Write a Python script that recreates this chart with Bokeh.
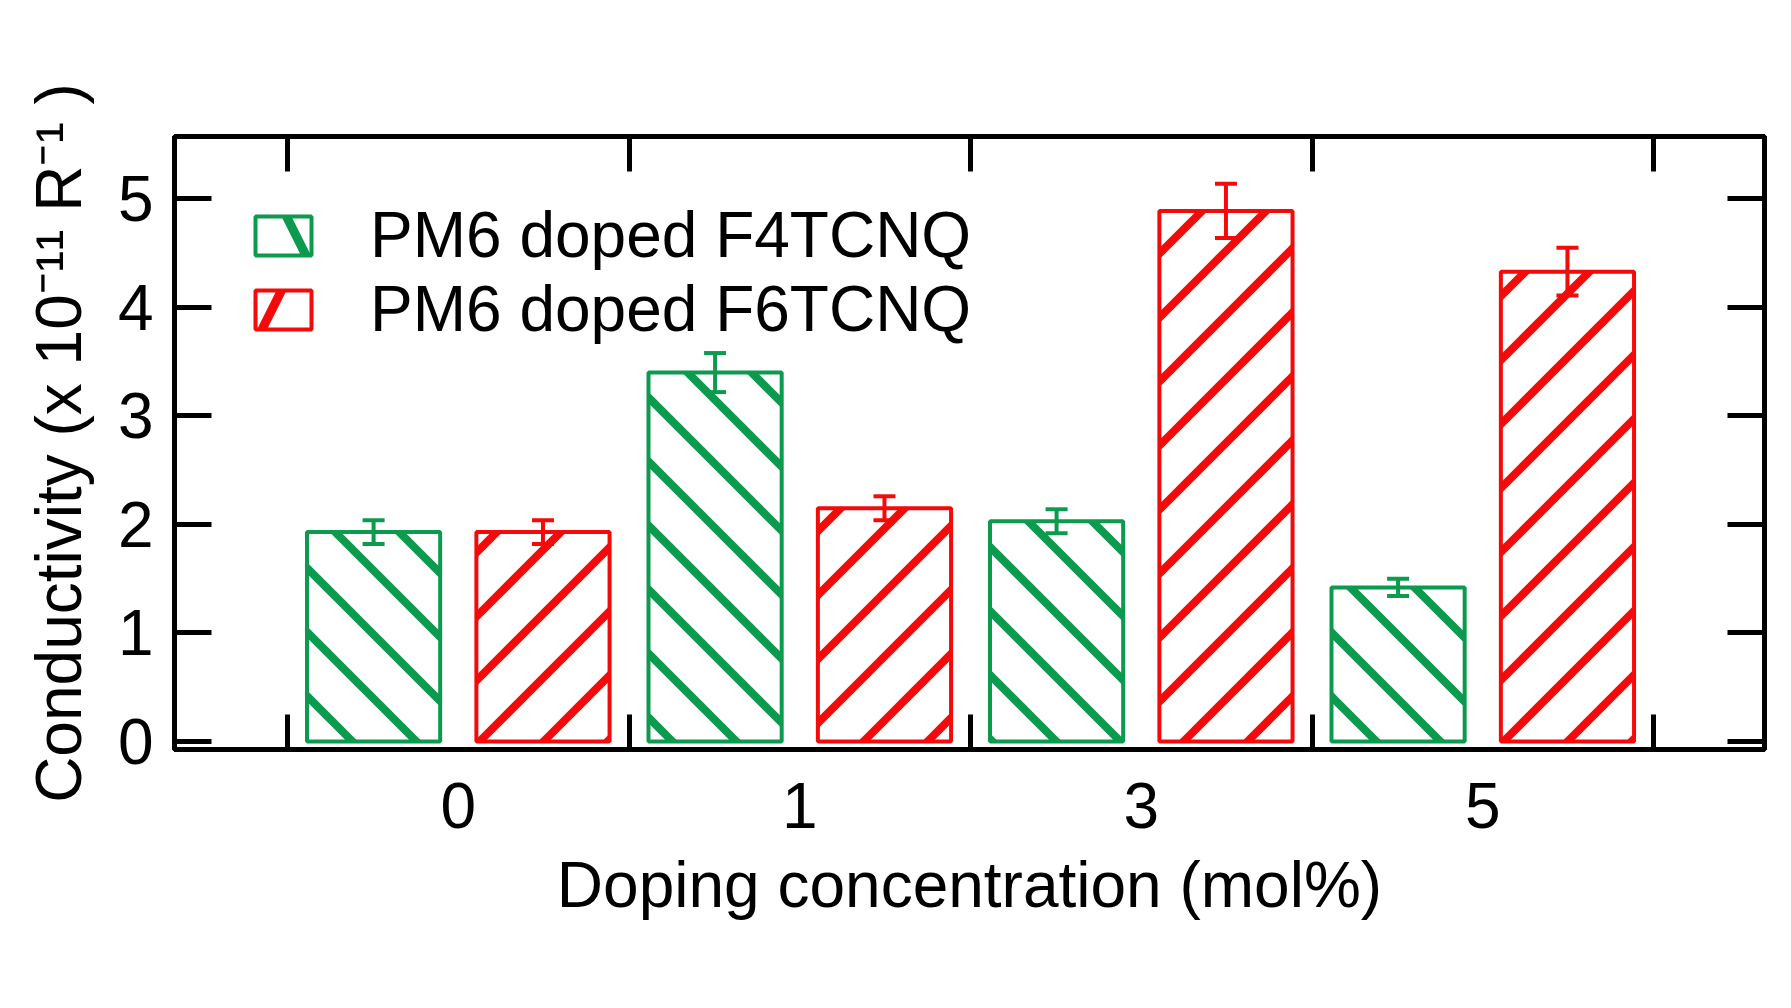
import numpy as np
from bokeh.plotting import figure
from bokeh.models import (ColumnDataSource, Range1d, LinearAxis, FixedTicker,
                          Whisker, TeeHead, Legend, LegendItem)
from bokeh.embed import file_html
from bokeh.resources import INLINE

# ---- data ----
categories = ["0", "1", "3", "5"]
f4tcnq = [1.93, 3.40, 2.03, 1.42]
f4tcnq_err = [0.11, 0.18, 0.11, 0.08]
f6tcnq = [1.93, 2.15, 4.89, 4.33]
f6tcnq_err = [0.11, 0.11, 0.25, 0.22]
series_names = ["PM6 doped F4TCNQ", "PM6 doped F6TCNQ"]
y_ticks = [0, 1, 2, 3, 4, 5]

GREEN = "#0C9A4E"
RED = "#F50A0A"
FONT = "Liberation Sans"

# ---- layout ----
W, H = 1783, 990
BL, BT, BR, BB = 174, 136, 19, 241
X0, X1 = -0.831, 3.825
Y0, Y1 = -0.074, 5.576
FW, FH = W - BL - BR, H - BT - BB
SX, SY = FW / (X1 - X0), FH / (Y1 - Y0)   # pixels per data unit

idx = np.arange(len(categories), dtype=float)
offset = 0.248
bar_w = 0.39
HATCH_STEP = 64.0      # px between stripes (vertical)
HATCH_T = 8.0          # px stripe thickness


def clip_halfplane(poly, a, b, c):
    """keep part of polygon where a*x + b*y <= c"""
    out = []
    n = len(poly)
    for i in range(n):
        P, Q = poly[i], poly[(i + 1) % n]
        fp = a * P[0] + b * P[1] - c
        fq = a * Q[0] + b * Q[1] - c
        if fp <= 0:
            out.append(P)
        if (fp < 0 < fq) or (fq < 0 < fp):
            t = fp / (fp - fq)
            out.append((P[0] + t * (Q[0] - P[0]), P[1] + t * (Q[1] - P[1])))
    return out


def hatch_patches(xc, tops, direction, phase):
    """45-degree stripes (in screen space) clipped to each bar; returns data coords"""
    xs, ys = [], []
    d = HATCH_T * np.sqrt(2) / 2
    for x, top in zip(xc, tops):
        ax0, ax1 = (x - bar_w / 2) * SX, (x + bar_w / 2) * SX
        T = top * SY
        rect = [(ax0, 0.0), (ax1, 0.0), (ax1, T), (ax0, T)]
        if direction == "back":   # X + Y = C
            a, b = 1.0, 1.0
            K = Y1 * SY + X0 * SX - phase
            lo, hi = ax0 - d, ax1 + T + d
        else:                     # Y - X = C
            a, b = -1.0, 1.0
            K = Y1 * SY - X0 * SX - phase
            lo, hi = -ax1 - d, T - ax0 + d
        k0 = np.floor((K - hi) / HATCH_STEP)
        k1 = np.ceil((K - lo) / HATCH_STEP)
        for k in np.arange(k0, k1 + 1):
            C = K - k * HATCH_STEP
            poly = clip_halfplane(rect, a, b, C + d)
            if len(poly) >= 3:
                poly = clip_halfplane(poly, -a, -b, -(C - d))
            if len(poly) >= 3:
                xs.append([pt[0] / SX for pt in poly])
                ys.append([pt[1] / SY for pt in poly])
    return xs, ys


xg = idx - offset
xr = idx + offset
src_g = ColumnDataSource(dict(
    x=xg, top=f4tcnq,
    upper=np.array(f4tcnq) + np.array(f4tcnq_err),
    lower=np.array(f4tcnq) - np.array(f4tcnq_err)))
src_r = ColumnDataSource(dict(
    x=xr, top=f6tcnq,
    upper=np.array(f6tcnq) + np.array(f6tcnq_err),
    lower=np.array(f6tcnq) - np.array(f6tcnq_err)))

p = figure(width=W, height=H, output_backend="svg", toolbar_location=None,
           x_range=Range1d(X0, X1), y_range=Range1d(Y0, Y1),
           min_border_left=BL, min_border_top=BT, min_border_right=BR,
           min_border_bottom=BB)
p.xgrid.visible = False
p.ygrid.visible = False
p.outline_line_color = "black"
p.outline_line_width = 5
p.background_fill_color = "white"
p.border_fill_color = "white"

# hatch stripes
gxs, gys = hatch_patches(xg, f4tcnq, "back", 43)
rxs, rys = hatch_patches(xr, f6tcnq, "fwd", 14)
p.patches(gxs, gys, fill_color=GREEN, line_color=None)
p.patches(rxs, rys, fill_color=RED, line_color=None)

# bar outlines
p.vbar(x="x", top="top", bottom=0, width=bar_w, source=src_g,
       fill_color=None, line_color=GREEN, line_width=4)
p.vbar(x="x", top="top", bottom=0, width=bar_w, source=src_r,
       fill_color=None, line_color=RED, line_width=4)

# legend glyphs (hidden renderers carrying the hatched style)
lg = p.vbar(x="x", top="top", bottom=0, width=bar_w, source=src_g,
            fill_color="white", line_color=GREEN, line_width=4,
            hatch_pattern="\\", hatch_color=GREEN, hatch_weight=9, hatch_scale=140)
lr = p.vbar(x="x", top="top", bottom=0, width=bar_w, source=src_r,
            fill_color="white", line_color=RED, line_width=4,
            hatch_pattern="/", hatch_color=RED, hatch_weight=9, hatch_scale=140)
lg.visible = False
lr.visible = False

for src, col in ((src_g, GREEN), (src_r, RED)):
    w = Whisker(source=src, base="x", upper="upper", lower="lower",
                line_color=col, line_width=4, level="annotation",
                upper_head=TeeHead(size=22, line_color=col, line_width=4),
                lower_head=TeeHead(size=22, line_color=col, line_width=4))
    p.add_layout(w)

# ---- axes ----
boundaries = list(np.arange(-0.5, len(categories), 1.0))

xb = p.xaxis[0]
xb.ticker = FixedTicker(ticks=list(idx), minor_ticks=boundaries)
xb.axis_line_width = 5
xb.major_tick_in = 0
xb.major_tick_out = 0
xb.minor_tick_in = 35
xb.minor_tick_out = 0
xb.minor_tick_line_width = 5
xb.minor_tick_line_color = "black"
xb.major_label_overrides = {i: c for i, c in enumerate(categories)}
xb.major_label_text_font = FONT
xb.major_label_text_font_size = "64px"
xb.major_label_text_color = "black"
xb.major_label_standoff = 33
xb.axis_label = "Doping concentration (mol%)"
xb.axis_label_text_font = FONT
xb.axis_label_text_font_size = "64px"
xb.axis_label_text_font_style = "normal"
xb.axis_label_text_color = "black"
xb.axis_label_standoff = 18

yl = p.yaxis[0]
yl.ticker = FixedTicker(ticks=y_ticks, minor_ticks=[])
yl.axis_line_width = 5
yl.major_tick_in = 37
yl.major_tick_out = 0
yl.major_tick_line_width = 5
yl.minor_tick_in = 0
yl.minor_tick_out = 0
yl.major_label_text_font = FONT
yl.major_label_text_font_size = "64px"
yl.major_label_text_color = "black"
yl.major_label_standoff = 21
yl.axis_label = "Conductivity (x 10\u207b\u00b9\u00b9 R\u207b\u00b9 )"
yl.axis_label_text_font = FONT
yl.axis_label_text_font_size = "64px"
yl.axis_label_text_font_style = "normal"
yl.axis_label_text_color = "black"
yl.axis_label_standoff = 20

xa = LinearAxis(ticker=FixedTicker(ticks=[], minor_ticks=boundaries))
xa.axis_line_width = 5
xa.major_tick_in = 0
xa.major_tick_out = 0
xa.minor_tick_in = 35
xa.minor_tick_out = 0
xa.minor_tick_line_width = 5
xa.minor_tick_line_color = "black"
p.add_layout(xa, "above")

yr = LinearAxis(ticker=FixedTicker(ticks=[], minor_ticks=y_ticks))
yr.axis_line_width = 5
yr.major_tick_in = 0
yr.major_tick_out = 0
yr.minor_tick_in = 37
yr.minor_tick_out = 0
yr.minor_tick_line_width = 5
yr.minor_tick_line_color = "black"
p.add_layout(yr, "right")

# ---- legend ----
legend = Legend(items=[LegendItem(label=series_names[0], renderers=[lg]),
                       LegendItem(label=series_names[1], renderers=[lr])],
                location=(74, 403))
legend.click_policy = "none"
legend.inactive_fill_alpha = 0
legend.border_line_color = None
legend.background_fill_alpha = 0
legend.padding = 0
legend.margin = 0
legend.spacing = -2
legend.glyph_width = 70
legend.glyph_height = 49
legend.label_standoff = 52
legend.label_text_font = FONT
legend.label_text_font_size = "64px"
legend.label_text_color = "black"
legend.label_height = 70
p.add_layout(legend)

open("out.html", "w").write(file_html(p, INLINE))
